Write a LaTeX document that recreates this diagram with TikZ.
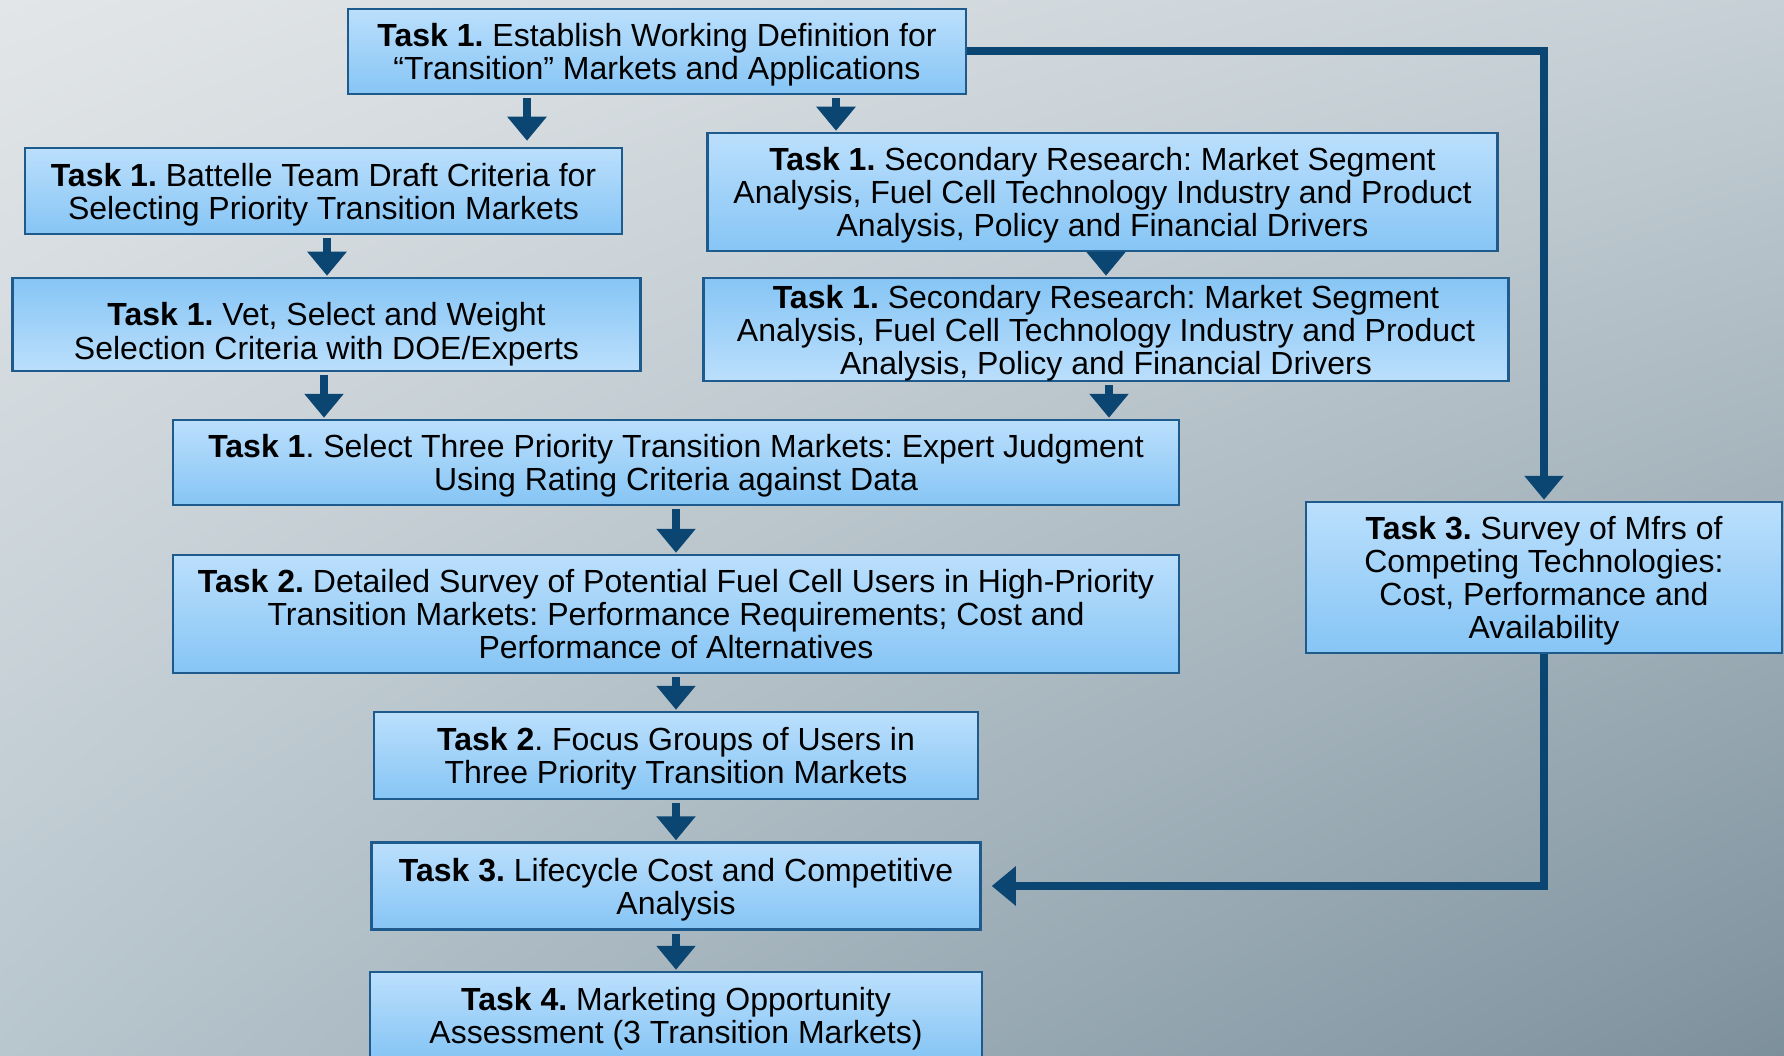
\documentclass[tikz,border=0pt]{standalone}
\usepackage{fontspec}
\setmainfont{Liberation Sans}
\frenchspacing
\usetikzlibrary{arrows.meta,shadings}
\definecolor{flowblue}{HTML}{0B4673}
\definecolor{boxedge}{HTML}{1F5A8C}
\definecolor{boxtop}{HTML}{BBDFFC}
\definecolor{boxbottom}{HTML}{86C5F5}
\definecolor{bgUL}{HTML}{E3E6E8}
\definecolor{bgUR}{HTML}{C6D0D6}
\definecolor{bgLL}{HTML}{B8C6CE}
\definecolor{bgLR}{HTML}{7C909C}
\begin{document}
\begin{tikzpicture}[x=1pt, y=-1pt,
    line join=miter,
    task/.style={draw=boxedge, line width=2.5pt, top color=boxtop, bottom color=boxbottom,
      align=center, inner sep=0pt, text depth=0pt, font=\fontsize{32}{33}\selectfont},
    flipped/.style={top color=boxbottom, bottom color=boxtop},
    flow/.style={draw=flowblue, line width=8pt, shorten <=3pt, shorten >=1pt,
      -{Triangle[width=38pt,length=24pt]}}]

% BACKGROUND
\useasboundingbox (0,0) rectangle (1784,1056);
\shade[upper left=bgUL, upper right=bgUR, lower left=bgLL, lower right=bgLR]
  (0,0) rectangle (1784,1056);

% TASK 1 BOXES
\node[task, minimum width=618pt, minimum height=85pt] (t0) at (657,51.5)
  {\textbf{Task 1.} Establish Working Definition for\\“Transition” Markets and Applications};
\node[task, minimum width=597pt, minimum height=86pt] (t1a) at (323.5,191)
  {\textbf{Task 1.} Battelle Team Draft Criteria for\\Selecting Priority Transition Markets};
\node[task, flipped, minimum width=628pt, minimum height=93pt] (t1b) at (326.5,324.5)
  {\rule{0pt}{36pt}\textbf{Task 1.} Vet, Select and Weight\\Selection Criteria with DOE/Experts};
\node[task, minimum width=790pt, minimum height=118pt] (t1c) at (1102.5,192)
  {\textbf{Task 1.} Secondary Research: Market Segment\\Analysis, Fuel Cell Technology Industry and Product\\Analysis, Policy and Financial Drivers};
\node[task, flipped, minimum width=805pt, minimum height=103pt] (t1d) at (1106,329.5)
  {\textbf{Task 1.} Secondary Research: Market Segment\\Analysis, Fuel Cell Technology Industry and Product\\Analysis, Policy and Financial Drivers};
\node[task, minimum width=1006pt, minimum height=85pt] (t1e) at (676,462.5)
  {\textbf{Task 1}. Select Three Priority Transition Markets: Expert Judgment\\Using Rating Criteria against Data};

% TASK 2--4 BOXES
\node[task, minimum width=1006pt, minimum height=118pt] (t2a) at (676,614)
  {\textbf{Task 2.} Detailed Survey of Potential Fuel Cell Users in High-Priority\\Transition Markets: Performance Requirements; Cost and\\Performance of Alternatives};
\node[task, minimum width=604pt, minimum height=87pt] (t2b) at (676,755.5)
  {\textbf{Task 2}. Focus Groups of Users in\\Three Priority Transition Markets};
\node[task, minimum width=609pt, minimum height=87pt] (t3a) at (676,886)
  {\textbf{Task 3.} Lifecycle Cost and Competitive\\Analysis};
\node[task, minimum width=612pt, minimum height=86pt] (t4) at (676,1015)
  {\textbf{Task 4.} Marketing Opportunity\\Assessment (3 Transition Markets)};
\node[task, minimum width=476pt, minimum height=151pt] (t3b) at (1544,577.5)
  {\textbf{Task 3.} Survey of Mfrs of\\Competing Technologies:\\Cost, Performance and\\Availability};

% arrow columns
\coordinate (cA) at (527,0);
\coordinate (cB) at (836,0);
\coordinate (cC) at (327,0);
\coordinate (cD) at (1106,0);
\coordinate (cE) at (324,0);
\coordinate (cF) at (1109,0);

% ARROWS
\draw[flow, shorten >=6pt] (t0.south -| cA) -- (t1a.north -| cA);
\draw[flow] (t0.south -| cB) -- (t1c.north -| cB);
\draw[flow] (t1a.south -| cC) -- (t1b.north -| cC);
\draw[flow] (t1c.south -| cD) -- (t1d.north -| cD);
\draw[flow] (t1b.south -| cE) -- (t1e.north -| cE);
\draw[flow] (t1d.south -| cF) -- (t1e.north -| cF);
\draw[flow] (t1e) -- (t2a);
\draw[flow] (t2a) -- (t2b);
\draw[flow] (t2b) -- (t3a);
\draw[flow] (t3a) -- (t4);
\draw[flow, shorten <=0pt] (t0.east) -| (t3b.north);
\draw[flow, shorten <=0pt, shorten >=10pt] (t3b.south) |- (t3a.east);

\end{tikzpicture}
\end{document}
